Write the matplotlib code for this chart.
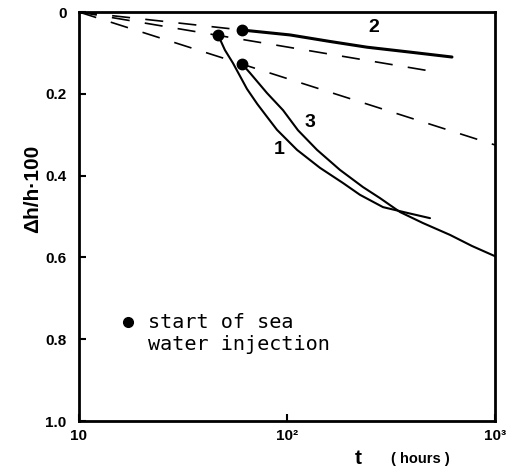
import matplotlib
matplotlib.use("Agg")
import matplotlib.pyplot as plt
from matplotlib.ticker import FixedLocator, NullLocator

plt.rcParams['lines.scale_dashes'] = False

# settlement curves after sea water injection (t in hours, dh/h*100)
t_curve1 = [46.6, 50.3, 55.0, 64.2, 72.0, 80.1, 89.5, 111.7, 144.1, 185.8, 224.4, 289.4, 377.6, 487.0]
y_curve1 = [0.056, 0.093, 0.125, 0.188, 0.225, 0.256, 0.288, 0.337, 0.381, 0.418, 0.447, 0.477, 0.491, 0.504]

t_curve2 = [60.8, 103.3, 161.0, 242.5, 390.0, 621.0]
y_curve2 = [0.044, 0.056, 0.072, 0.086, 0.098, 0.110]

t_curve3 = [60.8, 66.4, 80.1, 95.7, 112.9, 139.4, 179.7, 231.9, 280.0, 349.3, 450.6, 608.1, 774.8, 1000.0]
y_curve3 = [0.127, 0.149, 0.198, 0.240, 0.289, 0.337, 0.386, 0.428, 0.455, 0.489, 0.516, 0.545, 0.572, 0.597]

# straight trends before injection (start and end point)
t_trend1 = [10, 526]
y_trend1 = [0.0, 0.147]
t_trend2 = [10, 60.8]
y_trend2 = [0.0, 0.044]
t_trend3 = [10, 1000]
y_trend3 = [0.0, 0.325]

# injection start points
t_start = [46.6, 60.8, 60.8]
y_start = [0.056, 0.044, 0.127]

curve_names = ['1', '2', '3']
name_t = [91.6, 262.0, 129.0]
name_y = [0.335, 0.037, 0.271]

xticks = [10, 100, 1000]
xtick_labels = ['10', '10²', '10³']
yticks = [0, 0.2, 0.4, 0.6, 0.8, 1.0]
ytick_labels = ['0', '0.2', '0.4', '0.6', '0.8', '1.0']

fig = plt.figure(figsize=(5.16, 4.68), dpi=100)
ax = fig.add_axes([0.1531, 0.1004, 0.8062, 0.8739])

dash = (13, 11)
ax.plot(t_trend1, y_trend1, color='black', lw=1.2, dashes=dash)
ax.plot(t_trend2, y_trend2, color='black', lw=1.2, dashes=dash)
ax.plot(t_trend3, y_trend3, color='black', lw=1.2, dashes=dash)

ax.plot(t_curve1, y_curve1, color='black', lw=1.5, solid_capstyle='round')
ax.plot(t_curve2, y_curve2, color='black', lw=2.2, solid_capstyle='round')
ax.plot(t_curve3, y_curve3, color='black', lw=1.5, solid_capstyle='round')

ax.plot(t_start, y_start, 'o', color='black', ms=7.5, zorder=5)

for name, tx, ty in zip(curve_names, name_t, name_y):
    ax.text(tx, ty, name, ha='center', va='center', fontsize=14,
            fontweight='bold', family='Liberation Sans')

# legend for the dots
ax.plot([17.2], [0.758], 'o', color='black', ms=7, clip_on=False)
ax.text(21.5, 0.773, 'start of sea', fontsize=14.5, family='DejaVu Sans Mono',
        va='baseline', ha='left')
ax.text(21.5, 0.827, 'water injection', fontsize=14.5, family='DejaVu Sans Mono',
        va='baseline', ha='left')

ax.set_xscale('log')
ax.set_xlim(10, 1000)
ax.set_ylim(1.0, 0)

ax.xaxis.set_major_locator(FixedLocator(xticks))
ax.xaxis.set_minor_locator(NullLocator())
ax.set_xticklabels(xtick_labels)
ax.set_yticks(yticks)
ax.set_yticklabels(ytick_labels)

ax.tick_params(axis='both', direction='in', length=5, width=1.5,
               labelsize=11)
ax.tick_params(axis='y', pad=9)
ax.tick_params(axis='x', pad=6)
for lab in ax.get_xticklabels() + ax.get_yticklabels():
    lab.set_fontweight('bold')
    lab.set_family('Liberation Sans')

for sp in ax.spines.values():
    sp.set_linewidth(2.0)

fig.text(0.063, 0.596, 'Δh/h·100', rotation=90, ha='center', va='center',
         fontsize=15, fontweight='bold', family='Liberation Sans')
fig.text(0.694, 0.021, 't', ha='center', va='center', fontsize=15,
         fontweight='bold', family='Liberation Sans')
fig.text(0.815, 0.019, '( hours )', ha='center', va='center', fontsize=10.5,
         fontweight='bold', family='Liberation Sans')

fig.savefig('out.png', dpi=100)
